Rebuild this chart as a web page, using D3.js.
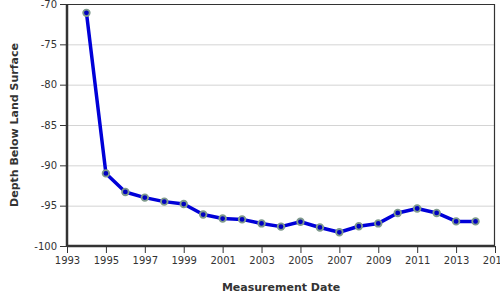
<!DOCTYPE html>
<html>
<head>
<meta charset="utf-8">
<script src="https://cdn.jsdelivr.net/npm/d3@7"></script>
<style>
  body { margin: 0; background: #fff; }
  text { font-family: "DejaVu Sans", Verdana, sans-serif; fill: #333; }
</style>
</head>
<body>
<script>
var years = [1994, 1995, 1996, 1997, 1998, 1999, 2000, 2001, 2002, 2003, 2004,
             2005, 2006, 2007, 2008, 2009, 2010, 2011, 2012, 2013, 2014];
var depths = [-71.1, -91.0, -93.3, -94.0, -94.5, -94.8, -96.1, -96.6, -96.7, -97.2, -97.6,
              -97.0, -97.7, -98.3, -97.55, -97.2, -95.9, -95.35, -95.9, -96.95, -96.95];
var xTicks = [1993, 1995, 1997, 1999, 2001, 2003, 2005, 2007, 2009, 2011, 2013, 2015];
var yTicks = [-70, -75, -80, -85, -90, -95, -100];

var data = years.map(function(y, i){ return { year: y, depth: depths[i] }; });

var outerWidth = 500;
var outerHeight = 300;
var marginLeft = 67;
var marginRight = 5;
var marginTop = 4;
var marginBottom = 54;

var svg = d3.select("body").append("svg")
    .attr("width", outerWidth)
    .attr("height", outerHeight);

var x = d3.scaleLinear()
    .domain([1993, 2015])
    .range([marginLeft, outerWidth - marginRight]);

var y = d3.scaleLinear()
    .domain([-100, -70])
    .range([outerHeight - marginBottom, marginTop]);

// grid lines
svg.append("g")
    .selectAll("line")
    .data(yTicks.filter(function(d){ return d != -70 && d != -100; }))
    .enter()
    .append("line")
    .attr("x1", x(1993))
    .attr("x2", x(2015))
    .attr("y1", function(d){ return y(d) + 0.5; })
    .attr("y2", function(d){ return y(d) + 0.5; })
    .attr("stroke", "#d4d4d4")
    .attr("stroke-width", 1);

// top and right border
svg.append("path")
    .attr("d", "M" + x(1993) + "," + (y(-70) + 0.5) + "H" + (x(2015) - 0.5) + "V" + y(-100))
    .attr("fill", "none")
    .attr("stroke", "#333")
    .attr("stroke-width", 1.2);

var xAxis = svg.append("g")
    .attr("transform", "translate(0," + y(-100) + ")")
    .call(d3.axisBottom(x).tickValues(xTicks).tickFormat(d3.format("d")).tickSize(7).tickPadding(4));

var yAxis = svg.append("g")
    .attr("transform", "translate(" + x(1993) + ",0)")
    .call(d3.axisLeft(y).tickValues(yTicks).tickFormat(function(d){ return d; }).tickSize(7).tickPadding(3));

[xAxis, yAxis].forEach(function(a){
    a.select(".domain").attr("stroke", "#333").attr("stroke-width", 2.5);
    a.selectAll(".tick line").attr("stroke", "#333").attr("stroke-width", 1);
    a.selectAll(".tick text").style("font-family", "DejaVu Sans, Verdana, sans-serif")
        .style("font-size", "10px").attr("fill", "#333");
});
yAxis.select(".domain").attr("d", "M0," + y(-70) + "V" + y(-100));
xAxis.select(".domain").attr("d", "M" + x(1993) + ",0H" + x(2015));

// line
var line = d3.line()
    .x(function(d){ return x(d.year); })
    .y(function(d){ return y(d.depth); });

svg.append("path")
    .datum(data)
    .attr("d", line)
    .attr("fill", "none")
    .attr("stroke", "#0000d8")
    .attr("stroke-width", 3.5)
    .attr("stroke-linejoin", "round");

svg.append("g")
    .selectAll("circle")
    .data(data)
    .enter()
    .append("circle")
    .attr("cx", function(d){ return x(d.year); })
    .attr("cy", function(d){ return y(d.depth); })
    .attr("r", 3.3)
    .attr("fill", "#0000c0")
    .attr("stroke", "#7f9a8c")
    .attr("stroke-width", 1.8);

// axis titles
svg.append("text")
    .attr("x", (x(1993) + x(2015)) / 2)
    .attr("y", 291)
    .attr("text-anchor", "middle")
    .style("font-size", "11px")
    .style("font-weight", "bold")
    .text("Measurement Date");

svg.append("text")
    .attr("transform", "translate(18," + (y(-70) + y(-100)) / 2 + ") rotate(-90)")
    .attr("text-anchor", "middle")
    .style("font-size", "11px")
    .style("font-weight", "bold")
    .text("Depth Below Land Surface");
</script>
</body>
</html>
